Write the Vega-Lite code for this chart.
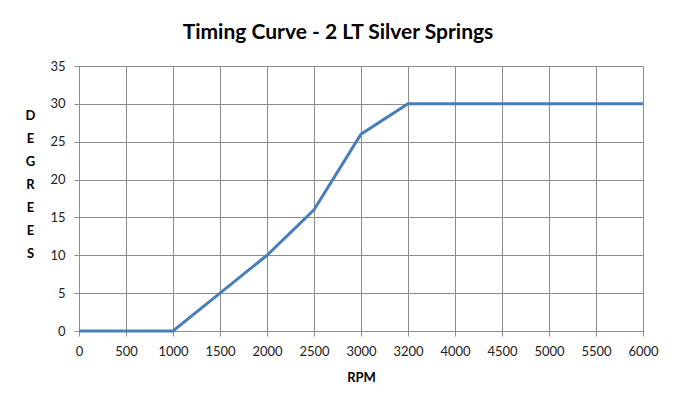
{
  "$schema": "https://vega.github.io/schema/vega-lite/v6.json",
  "autosize": "none",
  "width": 564,
  "height": 265,
  "padding": {"left": 79, "top": 66, "right": 31, "bottom": 73},
  "background": "white",
  "title": {
    "text": "Timing Curve - 2 LT Silver Springs",
    "font": "Lato",
    "fontSize": 21,
    "fontWeight": "bold",
    "color": "#000000",
    "anchor": "middle",
    "dx": -23,
    "offset": 17
  },
  "data": {
    "values": [
      {"rpm": "0", "deg": 0},
      {"rpm": "500", "deg": 0},
      {"rpm": "1000", "deg": 0},
      {"rpm": "1500", "deg": 5},
      {"rpm": "2000", "deg": 10},
      {"rpm": "2500", "deg": 16},
      {"rpm": "3000", "deg": 26},
      {"rpm": "3200", "deg": 30},
      {"rpm": "4000", "deg": 30},
      {"rpm": "4500", "deg": 30},
      {"rpm": "5000", "deg": 30},
      {"rpm": "5500", "deg": 30},
      {"rpm": "6000", "deg": 30}
    ]
  },
  "mark": {"type": "line", "color": "#4A7EBB", "strokeWidth": 3},
  "encoding": {
    "x": {
      "field": "rpm",
      "type": "ordinal",
      "sort": null,
      "scale": {"type": "point", "padding": 0},
      "axis": {
        "title": "RPM",
        "labelAngle": 0,
        "grid": true,
        "gridColor": "#8C8C8C",
        "domainColor": "#8C8C8C",
        "tickColor": "#8C8C8C",
        "tickSize": 5,
        "labelFont": "Lato",
        "labelFontSize": 13,
        "labelColor": "#222222",
        "labelPadding": 9,
        "titleFont": "Lato",
        "titleFontSize": 13,
        "titleFontWeight": "bold",
        "titleColor": "#000000",
        "titlePadding": 13
      }
    },
    "y": {
      "field": "deg",
      "type": "quantitative",
      "scale": {"domain": [0, 35]},
      "axis": {
        "values": [0, 5, 10, 15, 20, 25, 30, 35],
        "title": ["D", "E", "G", "R", "E", "E", "S"],
        "titleAngle": 0,
        "titleAlign": "center",
        "titleBaseline": "top",
        "titleX": -49,
        "titleY": 43,
        "titleLineHeight": 23,
        "titleFont": "Lato",
        "titleFontSize": 13,
        "titleFontWeight": "bold",
        "titleColor": "#000000",
        "grid": true,
        "gridColor": "#8C8C8C",
        "domainColor": "#8C8C8C",
        "tickColor": "#8C8C8C",
        "tickSize": 5,
        "labelFont": "Lato",
        "labelFontSize": 13,
        "labelColor": "#222222",
        "labelPadding": 9
      }
    }
  },
  "config": {
    "view": {"stroke": "#8C8C8C"}
  }
}
